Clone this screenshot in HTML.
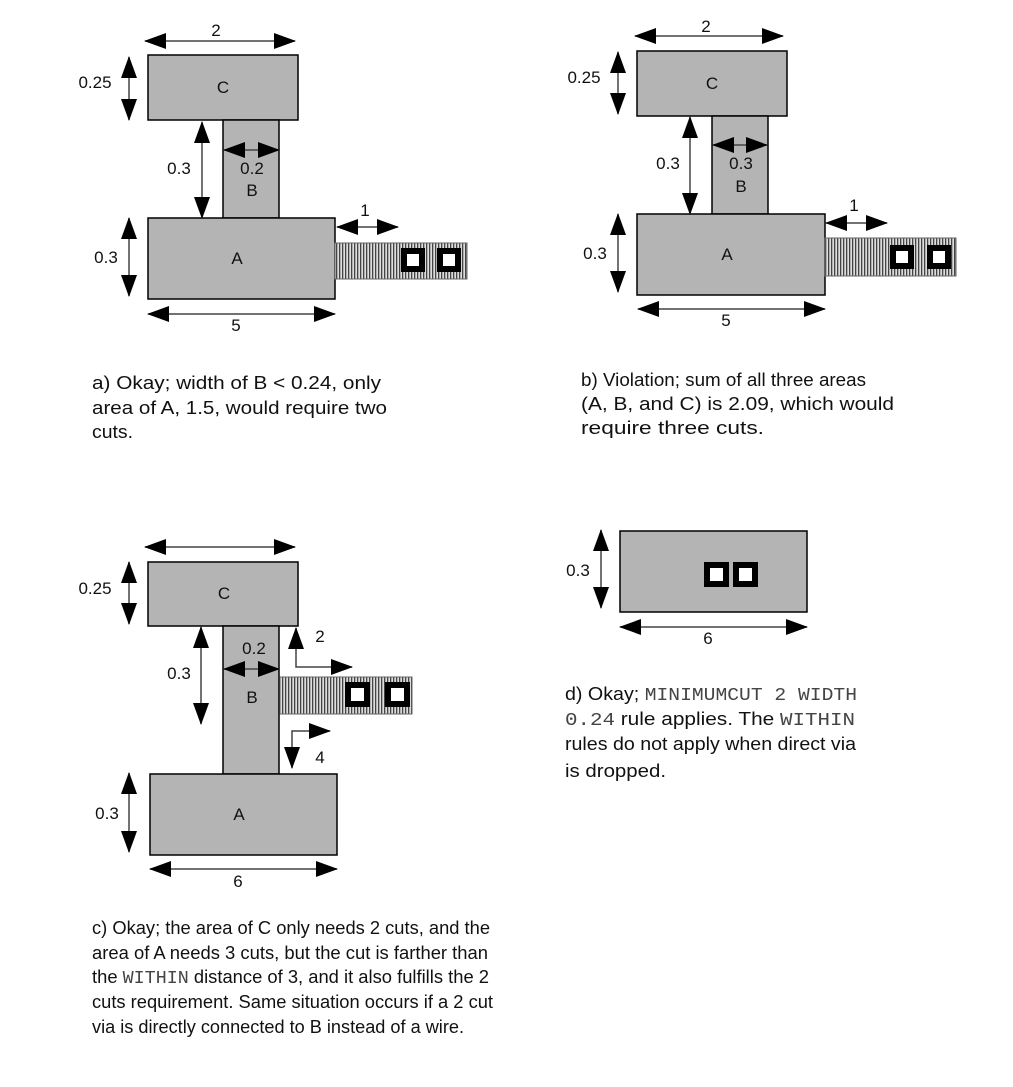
<!DOCTYPE html>
<html><head><meta charset="utf-8"><style>
html,body{margin:0;padding:0;background:#fff;}
svg{display:block;}
text{font-family:"Liberation Sans",sans-serif;font-size:18px;fill:#111;}
.d text{font-size:17px;}
.m{font-family:"Liberation Mono",monospace;fill:#444;}
</style></head><body>
<svg width="1013" height="1087" viewBox="0 0 1013 1087" xmlns="http://www.w3.org/2000/svg">
<defs>
<marker id="ah" markerUnits="userSpaceOnUse" markerWidth="22" markerHeight="16" refX="21" refY="8" orient="auto-start-reverse"><path d="M0,0 L22,8 L0,16 Z" fill="#000"/></marker>
<pattern id="hat" width="3" height="4" patternUnits="userSpaceOnUse"><rect width="3" height="4" fill="#ddd"/><rect width="1.3" height="4" fill="#444"/></pattern>
</defs>
<g stroke="#000" stroke-width="1.5" fill="#b4b4b4">
<rect x="148" y="55" width="150" height="65"/><rect x="223" y="120" width="56" height="98"/><rect x="148" y="218" width="187" height="81"/>
<rect x="335" y="243" width="132" height="36" fill="url(#hat)" stroke="#666" stroke-width="1"/>
<rect x="637" y="51" width="150" height="65"/><rect x="712" y="116" width="56" height="98"/><rect x="637" y="214" width="188" height="81"/>
<rect x="825" y="238" width="131" height="38" fill="url(#hat)" stroke="#666" stroke-width="1"/>
<rect x="148" y="562" width="150" height="64"/><rect x="223" y="626" width="56" height="148"/><rect x="150" y="774" width="187" height="81"/>
<rect x="280" y="677" width="132" height="37" fill="url(#hat)" stroke="#666" stroke-width="1"/>
<rect x="620" y="531" width="187" height="81"/>
</g>
<g fill="#fff" stroke="#000" stroke-width="6">
<rect x="404" y="251" width="18" height="18"/><rect x="440" y="251" width="18" height="18"/>
<rect x="893" y="248" width="18" height="18"/><rect x="930" y="248" width="18" height="18"/>
<rect x="348" y="685" width="19" height="19"/><rect x="388" y="685" width="19" height="19"/>
<rect x="707" y="565" width="19" height="19"/><rect x="736" y="565" width="19" height="19"/>
</g>
<g stroke="#444" stroke-width="1.5" marker-start="url(#ah)" marker-end="url(#ah)">
<line x1="145" y1="41" x2="295" y2="41"/><line x1="129" y1="57" x2="129" y2="120"/><line x1="202" y1="122" x2="202" y2="218"/>
<line x1="224" y1="150" x2="279" y2="150"/><line x1="337" y1="227" x2="398" y2="227"/><line x1="129" y1="218" x2="129" y2="296"/>
<line x1="148" y1="314" x2="335" y2="314"/>
<line x1="635" y1="36" x2="783" y2="36"/><line x1="618" y1="52" x2="618" y2="114"/><line x1="690" y1="117" x2="690" y2="214"/>
<line x1="713" y1="145" x2="767" y2="145"/><line x1="826" y1="223" x2="887" y2="223"/><line x1="618" y1="214" x2="618" y2="292"/>
<line x1="638" y1="309" x2="825" y2="309"/>
<line x1="145" y1="547" x2="295" y2="547"/><line x1="129" y1="562" x2="129" y2="624"/><line x1="201" y1="627" x2="201" y2="724"/>
<line x1="224" y1="669" x2="279" y2="669"/><line x1="129" y1="773" x2="129" y2="852"/><line x1="150" y1="869" x2="337" y2="869"/>
<line x1="601" y1="530" x2="601" y2="608"/><line x1="620" y1="627" x2="807" y2="627"/>
</g>
<g stroke="#444" stroke-width="1.5" fill="none" marker-start="url(#ah)" marker-end="url(#ah)">
<polyline points="296,628 296,667 352,667"/>
<polyline points="292,768 292,731 330,731"/>
</g>
<g text-anchor="middle" class="d">
<text x="216" y="36">2</text><text x="95" y="88">0.25</text><text x="223" y="93">C</text><text x="179" y="174">0.3</text>
<text x="252" y="174">0.2</text><text x="252" y="196">B</text><text x="365" y="216">1</text><text x="106" y="263">0.3</text>
<text x="237" y="264">A</text><text x="236" y="331">5</text>
<text x="706" y="32">2</text><text x="584" y="83">0.25</text><text x="712" y="89">C</text><text x="668" y="169">0.3</text>
<text x="741" y="169">0.3</text><text x="741" y="192">B</text><text x="854" y="211">1</text><text x="595" y="259">0.3</text>
<text x="727" y="260">A</text><text x="726" y="326">5</text>
<text x="95" y="594">0.25</text><text x="224" y="599">C</text><text x="179" y="679">0.3</text><text x="254" y="654">0.2</text>
<text x="252" y="703">B</text><text x="320" y="642">2</text><text x="320" y="763">4</text><text x="107" y="819">0.3</text>
<text x="239" y="820">A</text><text x="238" y="887">6</text>
<text x="578" y="576">0.3</text><text x="708" y="644">6</text>
</g>
<text x="92" y="389" textLength="289" lengthAdjust="spacingAndGlyphs">a) Okay; width of B &lt; 0.24, only</text>
<text x="92" y="414" textLength="295" lengthAdjust="spacingAndGlyphs">area of A, 1.5, would require two</text>
<text x="92" y="438" textLength="41" lengthAdjust="spacingAndGlyphs">cuts.</text>
<text x="581" y="386" textLength="285" lengthAdjust="spacingAndGlyphs">b) Violation; sum of all three areas</text>
<text x="581" y="410" textLength="313" lengthAdjust="spacingAndGlyphs">(A, B, and C) is 2.09, which would</text>
<text x="581" y="434" textLength="183" lengthAdjust="spacingAndGlyphs">require three cuts.</text>
<text x="92" y="934" textLength="398" lengthAdjust="spacingAndGlyphs">c) Okay; the area of C only needs 2 cuts, and the</text>
<text x="92" y="959" textLength="396" lengthAdjust="spacingAndGlyphs">area of A needs 3 cuts, but the cut is farther than</text>
<text x="92" y="983" textLength="397" lengthAdjust="spacingAndGlyphs">the <tspan class="m">WITHIN</tspan> distance of 3, and it also fulfills the 2</text>
<text x="92" y="1008" textLength="401" lengthAdjust="spacingAndGlyphs">cuts requirement. Same situation occurs if a 2 cut</text>
<text x="92" y="1033" textLength="372" lengthAdjust="spacingAndGlyphs">via is directly connected to B instead of a wire.</text>
<text x="565" y="700" textLength="292" lengthAdjust="spacingAndGlyphs">d) Okay; <tspan class="m">MINIMUMCUT 2 WIDTH</tspan></text>
<text x="565" y="725" textLength="290" lengthAdjust="spacingAndGlyphs"><tspan class="m">0.24</tspan> rule applies. The <tspan class="m">WITHIN</tspan></text>
<text x="565" y="750" textLength="291" lengthAdjust="spacingAndGlyphs">rules do not apply when direct via</text>
<text x="565" y="777" textLength="101" lengthAdjust="spacingAndGlyphs">is dropped.</text>
</svg>
</body></html>
